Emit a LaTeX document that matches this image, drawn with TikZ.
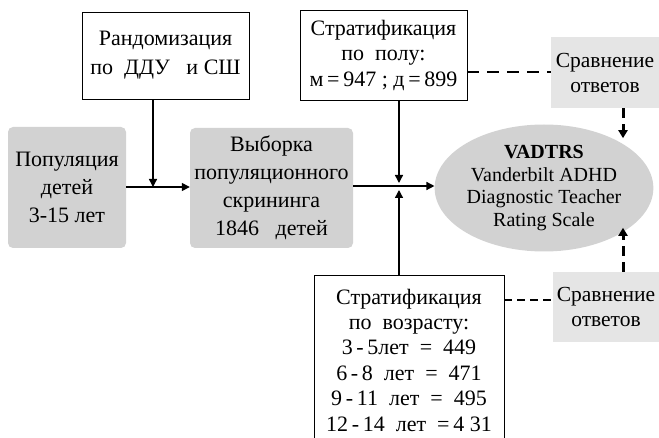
\documentclass[tikz,border=0pt]{standalone}
\usepackage{fontspec}
\setmainfont{Liberation Serif}
\usetikzlibrary{arrows.meta,shapes.geometric}

\tikzset{
	wbox/.style={draw, line width=0.9pt, align=center, inner sep=0pt},
	gbox/.style={fill=gray!35, rounded corners=5pt, align=center, inner sep=0pt},
	cbox/.style={fill=gray!20, align=center, inner sep=0pt},
	arr/.style={line width=1.4pt, -{Triangle[length=8pt,width=8pt]}},
	dline/.style={line width=1.8pt, dash pattern=on 12pt off 8pt},
	sline/.style={line width=1.8pt, dash pattern=on 8pt off 5pt},
	darr/.style={line width=3pt, dash pattern=on 10pt off 6pt, -{Triangle[length=8pt,width=9pt]}}
}

\begin{document}
\begin{tikzpicture}[x=1pt,y=-1pt,font=\fontsize{22}{27}\selectfont]
	\useasboundingbox (0,0) rectangle (659,438);
	\node [wbox, minimum width=167pt, minimum height=87pt, font=\fontsize{22}{29}\selectfont] (rand) at (165.5,55.5) {Рандомизация\\по\ \ ДДУ\ \ \ и СШ};
	\node [gbox, minimum width=118pt, minimum height=121pt, font=\fontsize{22}{28}\selectfont] (pop) at (67,187.5) {Популяция\\детей\\3-15 лет};
	\node [gbox, minimum width=163pt, minimum height=120pt, font=\fontsize{22}{28}\selectfont] (smp) at (271.5,188) {Выборка\\популяционного\\скрининга\\1846\ \ \ детей};
	\node [wbox, minimum width=167pt, minimum height=90pt, font=\fontsize{22}{25.5}\selectfont] (sex) at (383.5,55) {Стратификация\\по\ \ полу:\\м\,=\,947\ ;\ д\,=\,899};
	\node [ellipse, fill=gray!35, minimum width=202pt, minimum height=127pt, inner sep=0pt, align=center, font=\fontsize{20}{22.5}\selectfont] (vad) at (544,188) {\textbf{VADTRS}\\Vanderbilt ADHD\\Diagnostic Teacher\\Rating Scale};
	\node [cbox, minimum width=108pt, minimum height=71pt, font=\fontsize{21.5}{25}\selectfont] (cmp1) at (605,72.5) {Сравнение\\ответов};
	\node [cbox, minimum width=106pt, minimum height=70pt, font=\fontsize{21.5}{25}\selectfont] (cmp2) at (606,307) {Сравнение\\ответов};
	\node [wbox, minimum width=190pt, minimum height=170pt, font=\fontsize{22}{25.4}\selectfont] (age) at (409,360) {Стратификация\\по\ \ возрасту:\\3\,-\,5лет\ \ =\ \ 449\\6\,-\,8\ \ лет\ \ =\ \ 471\\9\,-\,11\ \ лет\ \ =\ \ 495\\12\,-\,14\ \ лет\ \ =\,4 31};
	% joints
	\coordinate (j1) at (153,187);
	\coordinate (j2) at (399,186);
	\coordinate (j2a) at (399,183);
	\coordinate (j2b) at (399,190);
	\coordinate (d1) at (0,72);
	\coordinate (d2) at (0,300);
	% arrows
	\draw [arr] (pop.east |- j1) -- (smp.west |- j1);
	\draw [arr] (rand.south -| j1) -- (j1);
	\draw [arr] (smp.east |- j2) -- (vad.west |- j2);
	\draw [arr] (sex.south -| j2) -- (j2a);
	\draw [arr] (age.north -| j2) -- (j2b);
	% comparisons
	\draw [dline] (sex.east |- d1) -- (cmp1.west |- d1);
	\draw [sline] (age.east |- d2) -- (cmp2.west |- d2);
	\draw [darr] ([xshift=18pt]cmp1.south) -- ++(0,30);
	\draw [darr] ([xshift=17pt]cmp2.north) -- ++(0,-44);
\end{tikzpicture}
\end{document}
